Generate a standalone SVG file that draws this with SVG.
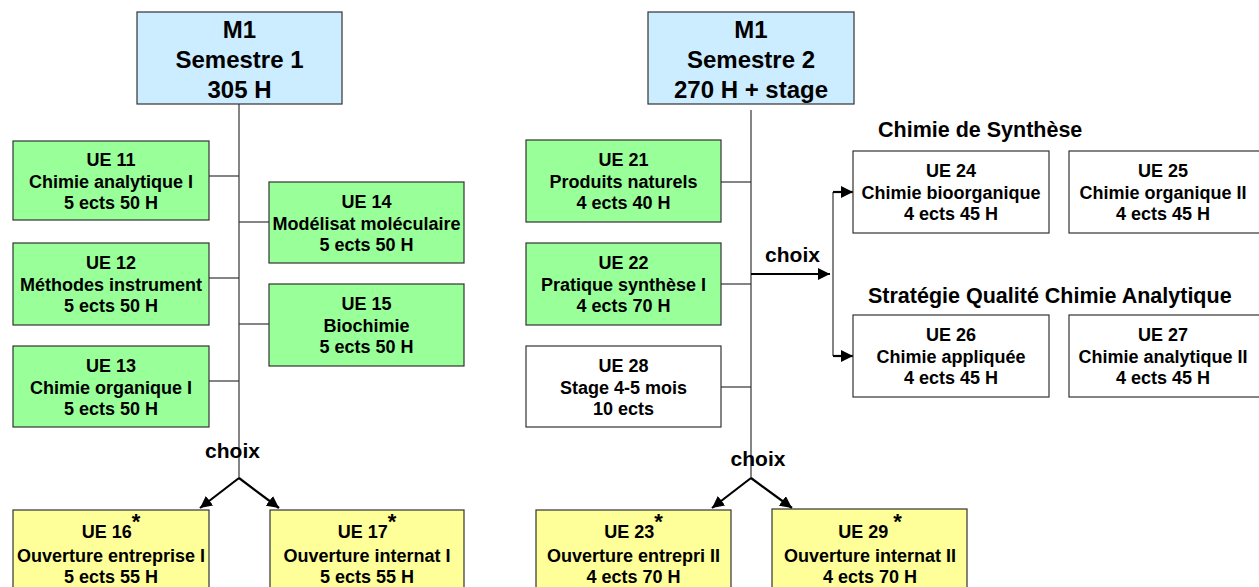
<svg xmlns="http://www.w3.org/2000/svg" width="1259" height="587" viewBox="0 0 1259 587">
<style>
text{font-family:"Liberation Sans",Arial,sans-serif;font-weight:bold;fill:#000}
.t{font-size:24px;text-anchor:middle}
.b{font-size:18px;text-anchor:middle}
.h{font-size:21.5px}
.c{font-size:21px;text-anchor:middle}
.s{font-size:22px}
.blue{fill:#CCECFF;stroke:#333;stroke-width:1.2}
.green{fill:#99FF99;stroke:#333;stroke-width:1.2}
.yellow{fill:#FFFF99;stroke:#333;stroke-width:1.2}
.white{fill:#FFFFFF;stroke:#333;stroke-width:1.2}
.ln{stroke:#333;stroke-width:1.2;fill:none}
.ar{stroke:#000;stroke-width:2.2;fill:none}
</style>
<defs>
<marker id="ah" markerUnits="userSpaceOnUse" markerWidth="14" markerHeight="12" refX="12" refY="6" orient="auto">
<path d="M0,0 L12,6 L0,12 Z" fill="#000"/>
</marker>
</defs>

<g id="connectors">
<line class="ln" x1="239" y1="104" x2="239" y2="478"/>
<line class="ln" x1="209" y1="176" x2="239" y2="176"/>
<line class="ln" x1="209" y1="278" x2="239" y2="278"/>
<line class="ln" x1="209" y1="381" x2="239" y2="381"/>
<line class="ln" x1="239" y1="222" x2="269" y2="222"/>
<line class="ln" x1="239" y1="324" x2="269" y2="324"/>
<path class="ar" d="M239,478 L200,508" marker-end="url(#ah)"/>
<path class="ar" d="M239,478 L279,508" marker-end="url(#ah)"/>

<line class="ln" x1="751" y1="110" x2="751" y2="478"/>
<line class="ln" x1="721" y1="182" x2="751" y2="182"/>
<line class="ln" x1="721" y1="284" x2="751" y2="284"/>
<line class="ln" x1="721" y1="387" x2="751" y2="387"/>
<path class="ar" d="M751,274 L830,274" marker-end="url(#ah)"/>
<line class="ln" x1="833" y1="192" x2="833" y2="356"/>
<path class="ar" d="M833,192 L853,192" marker-end="url(#ah)"/>
<path class="ar" d="M833,356 L853,356" marker-end="url(#ah)"/>
<path class="ar" d="M751,478 L712,508" marker-end="url(#ah)"/>
<path class="ar" d="M751,478 L792,508" marker-end="url(#ah)"/>
</g>

<g id="s1">
<rect class="blue" x="137" y="12" width="205" height="92"/>
<text class="t" x="239.5" y="38">M1</text>
<text class="t" x="239.5" y="68">Semestre 1</text>
<text class="t" x="239.5" y="98">305 H</text>
</g>
<g id="ue11">
<rect class="green" x="13" y="141" width="196" height="79"/>
<text class="b" x="111" y="166">UE 11</text>
<text class="b" x="111" y="187.5">Chimie analytique I</text>
<text class="b" x="111" y="209">5 ects 50 H</text>
</g>
<g id="ue12">
<rect class="green" x="13" y="243" width="196" height="82"/>
<text class="b" x="111" y="269">UE 12</text>
<text class="b" x="111" y="290.5">Méthodes instrument</text>
<text class="b" x="111" y="312">5 ects 50 H</text>
</g>
<g id="ue13">
<rect class="green" x="13" y="346" width="196" height="81"/>
<text class="b" x="111" y="372">UE 13</text>
<text class="b" x="111" y="393.5">Chimie organique I</text>
<text class="b" x="111" y="415">5 ects 50 H</text>
</g>
<g id="ue14">
<rect class="green" x="269" y="182" width="195" height="81"/>
<text class="b" x="366.5" y="208">UE 14</text>
<text class="b" x="366.5" y="229.5">Modélisat moléculaire</text>
<text class="b" x="366.5" y="251">5 ects 50 H</text>
</g>
<g id="ue15">
<rect class="green" x="269" y="284" width="195" height="82"/>
<text class="b" x="366.5" y="310">UE 15</text>
<text class="b" x="366.5" y="331.5">Biochimie</text>
<text class="b" x="366.5" y="353">5 ects 50 H</text>
</g>
<text class="c" x="232.5" y="458">choix</text>
<g id="ue16">
<rect class="yellow" x="13" y="510" width="196" height="85"/>
<text class="b" x="111" y="538">UE 16<tspan class="s" dy="-9">*</tspan></text>
<text class="b" x="111" y="562">Ouverture entreprise I</text>
<text class="b" x="111" y="583">5 ects 55 H</text>
</g>
<g id="ue17">
<rect class="yellow" x="270" y="510" width="194" height="85"/>
<text class="b" x="367" y="538">UE 17<tspan class="s" dy="-9">*</tspan></text>
<text class="b" x="367" y="562">Ouverture internat I</text>
<text class="b" x="367" y="583">5 ects 55 H</text>
</g>

<g id="s2">
<rect class="blue" x="648" y="12" width="206" height="92"/>
<text class="t" x="751" y="38">M1</text>
<text class="t" x="751" y="68">Semestre 2</text>
<text class="t" x="751" y="98">270 H + stage</text>
</g>
<g id="ue21">
<rect class="green" x="526" y="140" width="195" height="82"/>
<text class="b" x="623.5" y="166">UE 21</text>
<text class="b" x="623.5" y="187.5">Produits naturels</text>
<text class="b" x="623.5" y="209">4 ects 40 H</text>
</g>
<g id="ue22">
<rect class="green" x="526" y="243" width="195" height="82"/>
<text class="b" x="623.5" y="269">UE 22</text>
<text class="b" x="623.5" y="290.5">Pratique synthèse I</text>
<text class="b" x="623.5" y="312">4 ects 70 H</text>
</g>
<g id="ue28">
<rect class="white" x="526" y="346" width="195" height="81"/>
<text class="b" x="623.5" y="372">UE 28</text>
<text class="b" x="623.5" y="393.5">Stage 4-5 mois</text>
<text class="b" x="623.5" y="415">10 ects</text>
</g>
<text class="c" x="792.5" y="262">choix</text>
<text class="c" x="758" y="466">choix</text>
<text class="h" x="878" y="137">Chimie de Synthèse</text>
<text class="h" x="868" y="303">Stratégie Qualité Chimie Analytique</text>
<g id="ue24">
<rect class="white" x="853" y="151" width="196" height="82"/>
<text class="b" x="951" y="177">UE 24</text>
<text class="b" x="951" y="198.5">Chimie bioorganique</text>
<text class="b" x="951" y="220">4 ects 45 H</text>
</g>
<g id="ue25">
<rect class="white" x="1069" y="151" width="196" height="82"/>
<text class="b" x="1163" y="177">UE 25</text>
<text class="b" x="1163" y="198.5">Chimie organique II</text>
<text class="b" x="1163" y="220">4 ects 45 H</text>
</g>
<g id="ue26">
<rect class="white" x="853" y="315" width="196" height="82"/>
<text class="b" x="951" y="341">UE 26</text>
<text class="b" x="951" y="362.5">Chimie appliquée</text>
<text class="b" x="951" y="384">4 ects 45 H</text>
</g>
<g id="ue27">
<rect class="white" x="1069" y="315" width="196" height="82"/>
<text class="b" x="1163" y="341">UE 27</text>
<text class="b" x="1163" y="362.5">Chimie analytique II</text>
<text class="b" x="1163" y="384">4 ects 45 H</text>
</g>
<g id="ue23">
<rect class="yellow" x="536" y="510" width="195" height="85"/>
<text class="b" x="633.5" y="538">UE 23<tspan class="s" dy="-9">*</tspan></text>
<text class="b" x="633.5" y="562">Ouverture entrepri II</text>
<text class="b" x="633.5" y="583">4 ects 70 H</text>
</g>
<g id="ue29">
<rect class="yellow" x="772" y="509" width="195" height="86"/>
<text class="b" x="870" y="538">UE 29 <tspan class="s" dy="-9">*</tspan></text>
<text class="b" x="870" y="562">Ouverture internat II</text>
<text class="b" x="870" y="583">4 ects 70 H</text>
</g>
</svg>
